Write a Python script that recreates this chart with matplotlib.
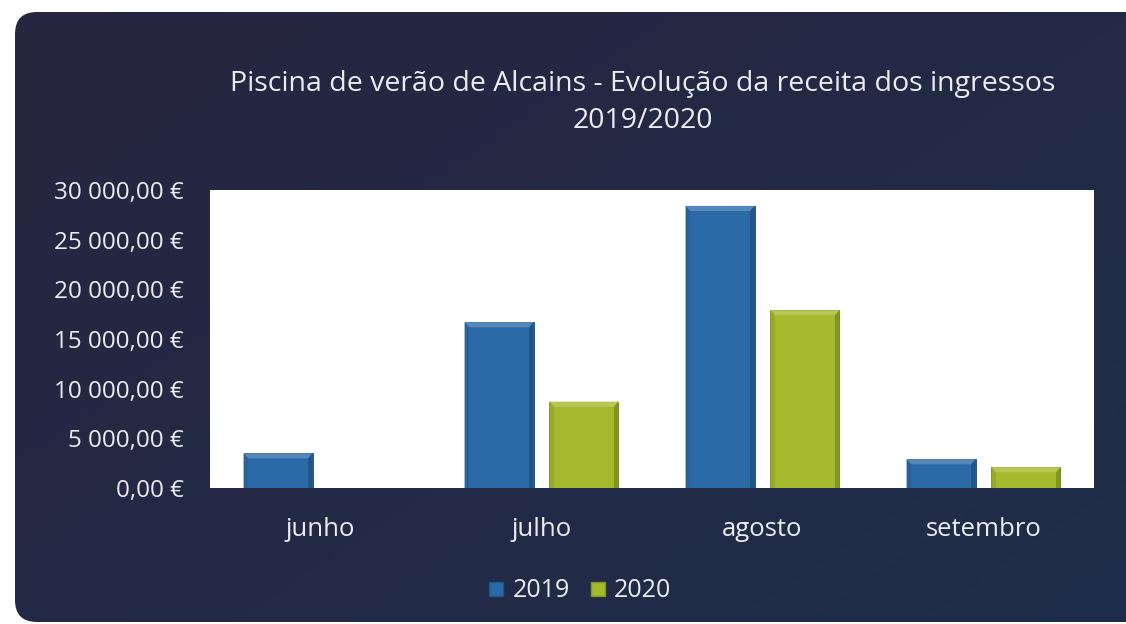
import numpy as np
import matplotlib
matplotlib.use("Agg")
import matplotlib.pyplot as plt
from matplotlib.patches import FancyBboxPatch, Polygon
from matplotlib.ticker import FuncFormatter, MultipleLocator
from matplotlib.lines import Line2D

plt.rcParams['font.family'] = ['Open Sans', 'DejaVu Sans']

# data
months = ['junho', 'julho', 'agosto', 'setembro']
rev_2019 = [3500, 16700, 28400, 2900]
rev_2020 = [np.nan, 8700, 17900, 2100]
series_names = ['2019', '2020']

title = 'Piscina de verão de Alcains - Evolução da receita dos ingressos\n2019/2020'

BLUE = '#2b6aa6'
GREEN = '#a4b92c'
TXT = '#ececf2'

fig = plt.figure(figsize=(11.26, 6.24), dpi=100)
fig.patch.set_facecolor('white')

# dark rounded panel with a slight gradient
bg = fig.add_axes([0, 0, 1, 1], zorder=-5)
bg.set_xlim(0, 1126)
bg.set_ylim(624, 0)
bg.axis('off')
yy, xx = np.mgrid[0:1:200j, 0:1:200j]
c1 = np.array([0.155, 0.145, 0.25])
c2 = np.array([0.12, 0.18, 0.29])
t = (0.55 * xx + 0.45 * yy)[..., None]
grad = c1 * (1 - t) + c2 * t
im = bg.imshow(grad, extent=[0, 1126, 624, 0], aspect='auto', zorder=0)
panel = FancyBboxPatch((15, 12), 1160, 610,
                       boxstyle='round,pad=0,rounding_size=22',
                       transform=bg.transData, facecolor='none', edgecolor='none')
bg.add_patch(panel)
im.set_clip_path(panel)

ax = fig.add_axes([210 / 1126, 136 / 624, 884 / 1126, 298 / 624])
ax.set_facecolor('white')
for s in ax.spines.values():
    s.set_visible(False)

x = np.arange(len(months))
w = 0.312
gap = 0.072
off = (w + gap) / 2


def shade(c, f):
    c = np.array(matplotlib.colors.to_rgb(c))
    if f > 0:
        return tuple(c + (1 - c) * f)
    return tuple(c * (1 + f))


def bevel(bars, color):
    # light top edge and darker sides, built from each bar's own box
    dx = 0.02
    dy = 520
    for b in bars:
        h = b.get_height()
        if not np.isfinite(h) or h <= 0:
            continue
        x0, y0, bw = b.get_x(), b.get_y(), b.get_width()
        d = min(dy, h * 0.3)
        top = Polygon([(x0, y0 + h), (x0 + bw, y0 + h), (x0 + bw - dx, y0 + h - d), (x0 + dx, y0 + h - d)],
                      closed=True, facecolor=shade(color, 0.2), edgecolor='none', zorder=3)
        left = Polygon([(x0, y0), (x0, y0 + h), (x0 + dx, y0 + h - d), (x0 + dx, y0)],
                       closed=True, facecolor=shade(color, -0.08), edgecolor='none', zorder=3)
        right = Polygon([(x0 + bw, y0), (x0 + bw, y0 + h), (x0 + bw - dx, y0 + h - d), (x0 + bw - dx, y0)],
                        closed=True, facecolor=shade(color, -0.2), edgecolor='none', zorder=3)
        for p in (top, left, right):
            ax.add_patch(p)


b1 = ax.bar(x - off, rev_2019, w, color=BLUE, edgecolor=shade(BLUE, -0.35), linewidth=0.6, zorder=2)
b2 = ax.bar(x + off, rev_2020, w, color=GREEN, edgecolor=shade(GREEN, -0.35), linewidth=0.6, zorder=2)
bevel(b1, BLUE)
bevel(b2, GREEN)

ax.set_xlim(-0.5, len(months) - 0.5)
ax.set_ylim(0, 30000)
ax.yaxis.set_major_locator(MultipleLocator(5000))


def euro(v, pos):
    s = f'{v:,.2f}'.replace(',', ' ').replace('.', ',')
    return s + ' €'


ax.yaxis.set_major_formatter(FuncFormatter(euro))
ax.set_xticks(x)
ax.set_xticklabels(months)
ax.tick_params(axis='y', length=0, pad=19, labelsize=17.5, labelcolor=TXT)
ax.tick_params(axis='x', length=0, pad=21, labelsize=18.5, labelcolor=TXT)

fig.text(0.571, 0.836, title, ha='center', va='center', fontsize=20.5,
         color=TXT, linespacing=1.42)

handles = [Line2D([], [], marker='s', linestyle='none', markersize=10,
                  markerfacecolor=c, markeredgecolor=shade(c, -0.2)) for c in (BLUE, GREEN)]
fig.legend(handles, series_names, loc='center', bbox_to_anchor=(0.514, 0.053),
           ncol=2, frameon=False, fontsize=18, labelcolor=TXT,
           handletextpad=0.25, columnspacing=0.7, handlelength=0.8)

fig.savefig('out.png', dpi=100, facecolor=fig.get_facecolor())
